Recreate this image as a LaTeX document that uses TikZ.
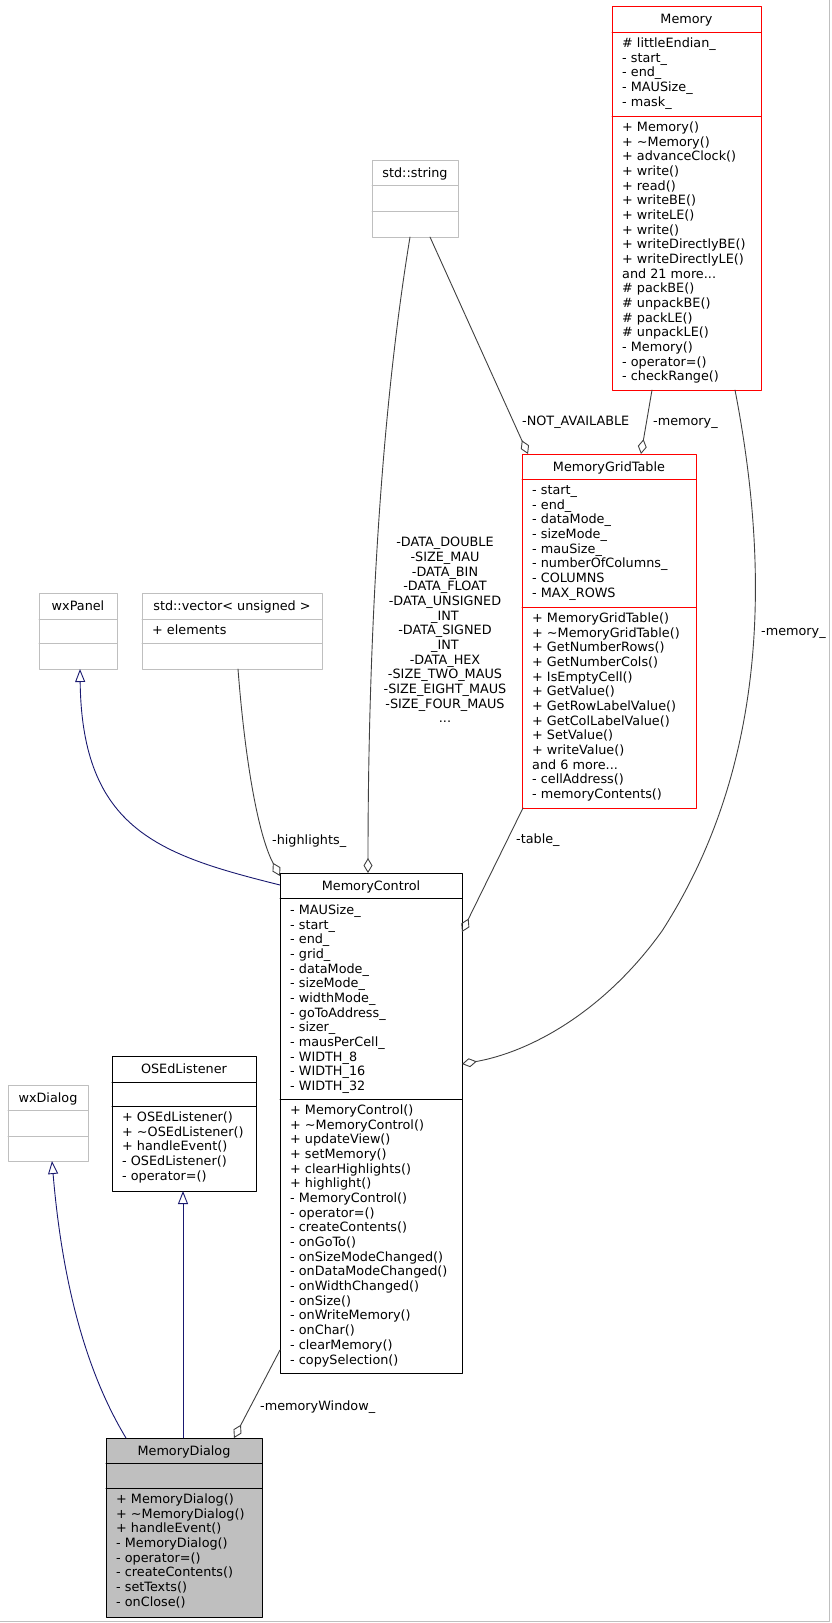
\documentclass[tikz,border=0pt]{standalone}
\usepackage{fontspec}
\setmainfont{DejaVu Sans}
\usetikzlibrary{arrows.meta}
\usetikzlibrary{positioning}

\definecolor{edgegrey}{HTML}{404040}
\definecolor{inhnavy}{HTML}{191970}
\definecolor{extgrey}{HTML}{BFBFBF}
\definecolor{selgrey}{HTML}{BFBFBF}

\tikzset{
  umlfont/.style={font=\fontsize{12.8}{14.67}\selectfont},
  frame/.style={draw, line width=1pt, inner sep=0pt, outer sep=0pt, anchor=north west},
  member/.style={umlfont, inner sep=0pt, anchor=base west},
  title/.style={umlfont, inner sep=0pt, anchor=base},
  edgelabel/.style={umlfont, inner sep=0pt, anchor=base west},
  usage/.style={draw=edgegrey, line width=0.9pt, -{Diamond[open,length=15pt,width=9pt]}},
  inherit/.style={draw=inhnavy, line width=0.9pt, {Triangle[open,length=13pt,width=10pt]}-},
}

% one line per member, first line centred at #3
\newcommand{\memberlist}[4]{%
  \foreach \m [count=\i from 0] in {#4}
    \node[member] (#1\i) at (#2,#3+\i*14.67+4.6) {\m};
}
\newcommand{\moredots}{...}

\begin{document}
\begin{tikzpicture}[line cap=round,line join=round,x=1pt,y=-1pt]
\useasboundingbox (0,0) rectangle (831,1623);
\draw[extgrey, line width=1pt] (829.5,0) -- (829.5,1621.5) -- (0,1621.5);

% Memory
\node[frame, draw=red, minimum width=149pt, minimum height=384pt] (mem) at (612,6) {};
\draw[red, line width=1pt] (612,32) -- (761,32) (612,116) -- (761,116);
\node[title] (memt) at (686.5,23.6) {Memory};
\memberlist{mema}{622}{43}{\# littleEndian\_, - start\_, - end\_, - MAUSize\_, - mask\_}
\memberlist{memm}{622}{127}{+ Memory(), + \textasciitilde Memory(), + advanceClock(), + write(), + read(), + writeBE(), + writeLE(), + write(), + writeDirectlyBE(), + writeDirectlyLE(), and 21 more\moredots, \# packBE(), \# unpackBE(), \# packLE(), \# unpackLE(), - Memory(), - operator=(), - checkRange()}

% std::string
\node[frame, draw=extgrey, minimum width=86pt, minimum height=77pt] (str) at (372,160) {};
\draw[extgrey, line width=1pt] (372,185) -- (458,185) (372,211) -- (458,211);
\node[title] (strt) at (415,177.1) {std::string};

% MemoryGridTable
\node[frame, draw=red, minimum width=174pt, minimum height=354pt] (mgt) at (522,454) {};
\draw[red, line width=1pt] (522,479) -- (696,479) (522,607) -- (696,607);
\node[title] (mgtt) at (609,471.1) {MemoryGridTable};
\memberlist{mgta}{532}{490}{- start\_, - end\_, - dataMode\_, - sizeMode\_, - mauSize\_, - numberOfColumns\_, - COLUMNS, - MAX\_ROWS}
\memberlist{mgtm}{532}{618}{+ MemoryGridTable(), + \textasciitilde MemoryGridTable(), + GetNumberRows(), + GetNumberCols(), + IsEmptyCell(), + GetValue(), + GetRowLabelValue(), + GetColLabelValue(), + SetValue(), + writeValue(), and 6 more\moredots, - cellAddress(), - memoryContents()}

% wxPanel
\node[frame, draw=extgrey, minimum width=78pt, minimum height=76pt] (wxp) at (39,593) {};
\draw[extgrey, line width=1pt] (39,619) -- (117,619) (39,643) -- (117,643);
\node[title] (wxpt) at (78,610.6) {wxPanel};

% std::vector
\node[frame, draw=extgrey, minimum width=180pt, minimum height=76pt] (vec) at (142,593) {};
\draw[extgrey, line width=1pt] (142,619) -- (322,619) (142,643) -- (322,643);
\node[title] (vect) at (232,610.6) {std::vector< unsigned >};
\memberlist{veca}{152}{630}{+ elements}

% MemoryControl
\node[frame, minimum width=182pt, minimum height=500pt] (mc) at (280,873) {};
\draw[line width=1pt] (280,898) -- (462,898) (280,1099) -- (462,1099);
\node[title] (mct) at (371,890.1) {MemoryControl};
\memberlist{mca}{290}{910}{- MAUSize\_, - start\_, - end\_, - grid\_, - dataMode\_, - sizeMode\_, - widthMode\_, - goToAddress\_, - sizer\_, - mausPerCell\_, - WIDTH\_8, - WIDTH\_16, - WIDTH\_32}
\memberlist{mcm}{290}{1110}{+ MemoryControl(), + \textasciitilde MemoryControl(), + updateView(), + setMemory(), + clearHighlights(), + highlight(), - MemoryControl(), - operator=(), - createContents(), - onGoTo(), - onSizeModeChanged(), - onDataModeChanged(), - onWidthChanged(), - onSize(), - onWriteMemory(), - onChar(), - clearMemory(), - copySelection()}

% wxDialog
\node[frame, draw=extgrey, minimum width=80pt, minimum height=76pt] (wxd) at (8,1085) {};
\draw[extgrey, line width=1pt] (8,1110) -- (88,1110) (8,1136) -- (88,1136);
\node[title] (wxdt) at (48,1102.1) {wxDialog};

% OSEdListener
\node[frame, minimum width=144pt, minimum height=135pt] (osed) at (112,1056) {};
\draw[line width=1pt] (112,1082) -- (256,1082) (112,1106) -- (256,1106);
\node[title] (osedt) at (184,1073.6) {OSEdListener};
\memberlist{osedm}{122}{1117}{+ OSEdListener(), + \textasciitilde OSEdListener(), + handleEvent(), - OSEdListener(), - operator=()}

% MemoryDialog
\node[frame, fill=selgrey, minimum width=156pt, minimum height=179pt] (mdlg) at (106,1438) {};
\draw[line width=1pt] (106,1463) -- (262,1463) (106,1488) -- (262,1488);
\node[title] (mdlgt) at (184,1455.1) {MemoryDialog};
\memberlist{mdlgm}{116}{1499}{+ MemoryDialog(), + \textasciitilde MemoryDialog(), + handleEvent(), - MemoryDialog(), - operator=(), - createContents(), - setTexts(), - onClose()}

% inheritance
\draw[inherit] ([xshift=44pt]wxd.south west) .. controls (62,1280) and (85,1370) .. ([xshift=20pt]mdlg.north west);
\draw[inherit] ([xshift=71pt]osed.south west) -- ([xshift=77pt]mdlg.north west);
\draw[inherit] ([xshift=41pt]wxp.south west) .. controls (82,830) and (160,855) .. ([yshift=-12pt]mc.north west);

% usage
\draw[usage] ([xshift=96pt]vec.south west) .. controls (245,760) and (258,835) .. ([yshift=-3pt]mc.north west);
\draw[usage] ([xshift=38pt]str.south west) .. controls (375,450) and (368,700) .. ([xshift=88pt]mc.north west);
\draw[usage] ([xshift=58pt]str.south west) -- ([xshift=6pt]mgt.north west);
\draw[usage] ([xshift=40pt]mem.south west) -- ([xshift=119pt]mgt.north west);
\draw[usage] ([xshift=123pt]mem.south west) .. controls (768,560) and (772,760) .. (662,931) .. controls (604,1012) and (530,1052) .. ([yshift=-191pt]mc.north east);
\draw[usage] ([xshift=1pt]mgt.south west) -- ([yshift=-59pt]mc.north east);
\draw[usage] ([yshift=-477pt]mc.north west) -- ([xshift=128pt]mdlg.north west);

% edge labels
\node[edgelabel] (lblhl) at (272,844.6) {-highlights\_};
\node[umlfont, align=center, inner sep=0pt, anchor=north] (lblstr) at (445,537) {-DATA\_DOUBLE\\-SIZE\_MAU\\-DATA\_BIN\\-DATA\_FLOAT\\-DATA\_UNSIGNED\\\_INT\\-DATA\_SIGNED\\\_INT\\-DATA\_HEX\\-SIZE\_TWO\_MAUS\\-SIZE\_EIGHT\_MAUS\\-SIZE\_FOUR\_MAUS\\...};
\node[edgelabel] (lblna) at (522,425.6) {-NOT\_AVAILABLE};
\node[edgelabel] (lblm1) at (653,425.6) {-memory\_};
\node[edgelabel] (lblm2) at (761,635.6) {-memory\_};
\node[edgelabel] (lbltb) at (516,843.6) {-table\_};
\node[edgelabel] (lblmw) at (260,1410.6) {-memoryWindow\_};
\end{tikzpicture}
\end{document}
